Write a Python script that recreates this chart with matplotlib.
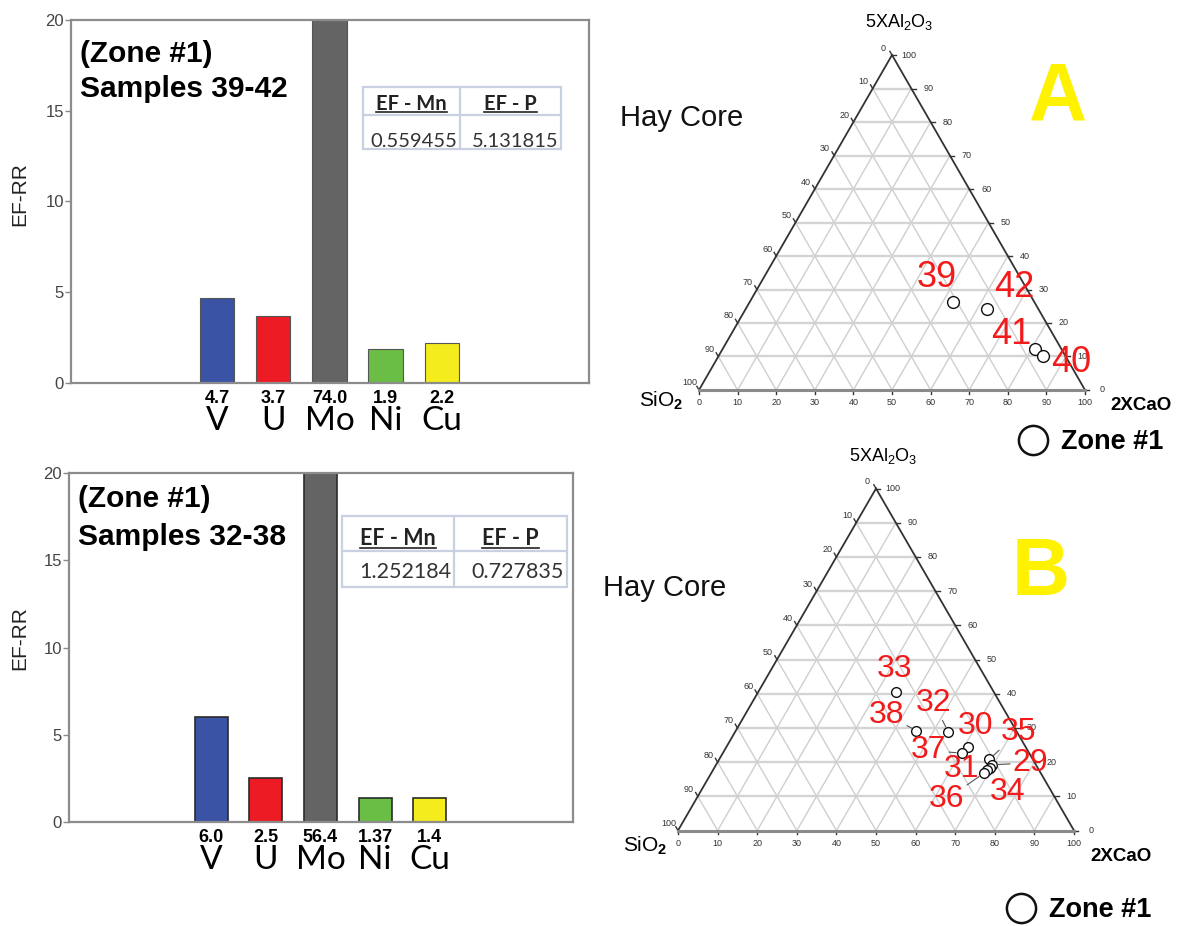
import numpy as np
import matplotlib
matplotlib.use("Agg")
import matplotlib.pyplot as plt
from matplotlib.lines import Line2D
from matplotlib.patches import Rectangle

plt.rcParams['font.family'] = ['Liberation Sans', 'DejaVu Sans']
plt.rcParams['mathtext.fontset'] = 'custom'
plt.rcParams['mathtext.rm'] = 'Liberation Sans'
plt.rcParams['mathtext.it'] = 'Liberation Sans:italic'
plt.rcParams['mathtext.bf'] = 'Liberation Sans:bold'

# ---------------- enrichment factors (EF-RR) ----------------
elements = ['V', 'U', 'Mo', 'Ni', 'Cu']
bar_colors = ['#3a53a4', '#ed1c24', '#646464', '#6abd45', '#f4ec1c']

ef_rr_39_42 = [4.7, 3.7, 74.0, 1.9, 2.2]
ef_rr_32_38 = [6.0, 2.5, 56.4, 1.37, 1.4]
decimals_39_42 = [1, 1, 1, 1, 1]
decimals_32_38 = [1, 1, 1, 2, 1]

table_header = ['EF - Mn', 'EF - P']
ef_mn_p_39_42 = ['0.559455', '5.131815']
ef_mn_p_32_38 = ['1.252184', '0.727835']

# ---------------- ternary compositions (%) ----------------
# SiO2, 2XCaO, 5XAl2O3
samples_a = ['39', '42', '41', '40']
sio2_a = [20.9, 13.4, 6.9, 5.9]
cao_a = [52.7, 62.4, 80.9, 84.0]
al_a = [26.4, 24.2, 12.2, 10.1]

samples_b = ['33', '38', '32', '30', '37', '35', '29', '34', '31', '36']
sio2_b = [24.6, 25.2, 17.3, 14.4, 17.1, 11.0, 11.2, 12.0, 13.1, 14.5]
cao_b = [34.8, 45.6, 53.8, 61.1, 60.3, 68.2, 69.6, 69.7, 69.2, 68.8]
al_b = [40.6, 29.2, 28.9, 24.5, 22.6, 20.8, 19.2, 18.3, 17.7, 16.7]

W, H = 1178, 926
fig = plt.figure(figsize=(W / 100, H / 100), dpi=100)
fig.patch.set_facecolor('white')


def px_axes(x0, y0, x1, y1):
    """Axes placed by a pixel box measured from the top-left corner."""
    return fig.add_axes([x0 / W, 1 - y1 / H, (x1 - x0) / W, (y1 - y0) / H])


renderer = fig.canvas.get_renderer()


def underline(ax, text_artist, xy_axes):
    bb = text_artist.get_window_extent(renderer=renderer)
    ybase = ax.transAxes.transform(xy_axes)[1] - 2.5
    inv = fig.transFigure.inverted()
    (fx0, fy), (fx1, _) = inv.transform([(bb.x0, ybase), (bb.x1, ybase)])
    fig.add_artist(Line2D([fx0, fx1], [fy, fy], transform=fig.transFigure,
                          color='#222222', lw=1.2, zorder=10))


def bar_panel(ax, values, decimals, title, table_vals, tbox, col_split,
              row_split, base_head, base_val, table_fs, edge, edge_lw, width):
    x = np.arange(len(elements))
    ax.bar(x, values, width=width, color=bar_colors, edgecolor=edge,
           linewidth=edge_lw, zorder=2)
    ax.set_xlim(-2.6, 6.62)
    ax.set_ylim(0, 20)
    ax.set_yticks([0, 5, 10, 15, 20])
    ax.tick_params(axis='y', length=4, width=1, color='#888888',
                   labelsize=12, labelcolor='#444444', pad=1)
    ax.set_xticks([])
    for s in ax.spines.values():
        s.set_color('#8c8c8c')
        s.set_linewidth(1.6)
    for xi, v, d, name in zip(x, values, decimals, elements):
        ax.annotate(f'{v:.{d}f}', xy=(xi, 0), xytext=(0, -20),
                    textcoords='offset pixels', ha='center', va='baseline',
                    fontsize=13, fontweight='bold', annotation_clip=False)
        ax.annotate(name, xy=(xi, 0), xytext=(0, -47),
                    textcoords='offset pixels', ha='center', va='baseline',
                    fontsize=24, family='Lato', annotation_clip=False)
    ax.set_ylabel('EF-RR', fontsize=15, color='#222222', va='center')

    for (tx, ty), line in zip(title[0], title[1]):
        ax.text(tx, ty, line, transform=ax.transAxes, fontsize=21.5,
                fontweight='bold', ha='left', va='baseline', zorder=4)

    # small EF-Mn / EF-P table
    tx0, ty0, tx1, ty1 = tbox
    border = '#c8d0e2'
    ax.add_patch(Rectangle((tx0, ty0), tx1 - tx0, ty1 - ty0,
                           transform=ax.transAxes, facecolor='white',
                           edgecolor=border, lw=1.6, zorder=5))
    ax.plot([col_split, col_split], [ty0, ty1], transform=ax.transAxes,
            color=border, lw=1.6, zorder=6)
    ax.plot([tx0, tx1], [row_split, row_split], transform=ax.transAxes,
            color=border, lw=1.6, zorder=6)
    cols = [(tx0, col_split), (col_split, tx1)]
    for (c0, c1), head, val in zip(cols, table_header, table_vals):
        t = ax.text((c0 + c1) / 2, base_head, head, transform=ax.transAxes,
                    ha='center', va='baseline', fontsize=table_fs,
                    fontweight='bold', family='Lato', color='#222222',
                    zorder=7)
        underline(ax, t, ((c0 + c1) / 2, base_head))
        ax.annotate(val, xy=(c1, base_val), xycoords='axes fraction',
                    xytext=(-3, 0), textcoords='offset pixels', ha='right',
                    va='baseline', fontsize=table_fs, family='Lato',
                    color='#333333', zorder=7)


# ---- top bar chart: samples 39-42 ----
ax1 = px_axes(71, 20, 589, 383)
bar_panel(ax1, ef_rr_39_42, decimals_39_42,
          ([(0.0174, 0.884), (0.0174, 0.788)], ['(Zone #1)', 'Samples 39-42']),
          ef_mn_p_39_42, (0.5637, 0.6446, 0.946, 0.8154), 0.751, 0.7383,
          (383 - 110) / 363, (383 - 147) / 363, 14.5, '#555555', 0.8, 0.61)
ax1.yaxis.set_label_coords(-0.0985, 0.52)

# ---- bottom bar chart: samples 32-38 ----
ax2 = px_axes(69, 473, 573, 822)
bar_panel(ax2, ef_rr_32_38, decimals_32_38,
          ([(0.018, 0.9026), (0.018, 0.7937)], ['(Zone #1)', 'Samples 32-38']),
          ef_mn_p_32_38, (0.5417, 0.6734, 0.988, 0.8768), 0.764, 0.7765,
          (822 - 545) / 349, (822 - 578) / 349, 15.5, '#2b2b2b', 1.2, 0.60)
ax2.yaxis.set_label_coords(-0.097, 0.526)

# ---------------- ternary diagrams ----------------
HGT = np.sqrt(3) / 2


def tern_xy(s, c, a):
    s, c, a = (np.asarray(v, dtype=float) for v in (s, c, a))
    tot = s + c + a
    return 100 * (c + a / 2) / tot, 100 * a * HGT / tot


def ternary_panel(ax, xlim, ylim, names, s, c, a, offsets, leaders,
                  label_fs, ms, corner_offsets, hay_pos, letter, letter_pos,
                  legend_anchor, legend_pad):
    ax.set_xlim(*xlim)
    ax.set_ylim(*ylim)
    ax.axis('off')
    grid = dict(color='#cfcfcf', lw=1.0, zorder=1)
    for v in range(10, 100, 10):
        x, y = tern_xy([100 - v, 0], [0, 100 - v], [v, v])
        ax.plot(x, y, color='#d4d4d4', lw=1.7, zorder=1)
        x, y = tern_xy([100 - v, 0], [v, v], [0, 100 - v])
        ax.plot(x, y, **grid)
        x, y = tern_xy([v, v], [100 - v, 0], [0, 100 - v])
        ax.plot(x, y, **grid)
    # triangle edges
    x, y = tern_xy([100, 0], [0, 0], [0, 100])
    ax.plot(x, y, color='#333333', lw=1.3, zorder=3)
    x, y = tern_xy([0, 0], [100, 0], [0, 100])
    ax.plot(x, y, color='#333333', lw=1.3, zorder=3)
    x, y = tern_xy([100, 0], [0, 100], [0, 0])
    ax.plot(x, y, color='#8a8a8a', lw=2.2, zorder=3)

    tick_kw = dict(textcoords='offset pixels', ha='center', va='center',
                   fontsize=6.5, color='#333333', annotation_clip=False)
    for v in range(0, 101, 10):
        # left edge: SiO2
        px, py = tern_xy(v, 0, 100 - v)
        ax.plot([px, px - 0.55], [py, py + 0.95], color='#333333', lw=1)
        ax.annotate(str(v), xy=(px, py), xytext=(-9, 7), **tick_kw)
        # right edge: 5XAl2O3
        px, py = tern_xy(0, 100 - v, v)
        ax.plot([px, px + 1.1], [py, py], color='#333333', lw=1)
        ax.annotate(str(v), xy=(px, py), xytext=(17, 0), **tick_kw)
        # bottom edge: 2XCaO
        px, py = tern_xy(100 - v, v, 0)
        ax.plot([px, px], [py, py - 1.0], color='#333333', lw=1)
        ax.annotate(str(v), xy=(px, py), xytext=(0, -13), **tick_kw)

    # corner labels
    (o_top, o_left, o_right) = corner_offsets
    ax.annotate(r'5XAl$_2$O$_3$', xy=tern_xy(0, 0, 100), xytext=o_top,
                textcoords='offset pixels', ha='center', va='center',
                fontsize=13, annotation_clip=False)
    ax.annotate(r'SiO$_{\mathbf{2}}$', xy=tern_xy(100, 0, 0), xytext=o_left,
                textcoords='offset pixels', ha='center', va='center',
                fontsize=15, annotation_clip=False)
    ax.annotate('2XCaO', xy=tern_xy(0, 100, 0), xytext=o_right,
                textcoords='offset pixels', ha='center', va='center',
                fontsize=13.5, fontweight='bold', annotation_clip=False)

    # samples
    px, py = tern_xy(s, c, a)
    ax.plot(px, py, ls='none', marker='o', ms=ms, mfc='white', mec='#111111',
            mew=1.0, zorder=5)
    for name, x0, y0 in zip(names, px, py):
        arrow = None
        if name in leaders:
            arrow = dict(arrowstyle='-', color='#555555', lw=0.8,
                         shrinkA=0, shrinkB=ms * 0.55)
        ax.annotate(name, xy=(x0, y0), xytext=offsets[name],
                    textcoords='offset pixels', ha='center', va='center',
                    fontsize=label_fs, color='#f21b1b', zorder=6,
                    arrowprops=arrow)

    ax.text(hay_pos[0], hay_pos[1], 'Hay Core', transform=ax.transAxes,
            fontsize=21, ha='left', va='center', color='#111111')
    ax.text(letter_pos[0], letter_pos[1], letter, transform=ax.transAxes,
            fontsize=58, fontweight='bold', color='#fff200', ha='center',
            va='center')
    handle = Line2D([], [], ls='none', marker='o', ms=21, mfc='white',
                    mec='#111111', mew=1.8, label='Zone #1')
    ax.legend(handles=[handle], loc='center left', bbox_to_anchor=legend_anchor,
              bbox_transform=fig.transFigure, frameon=False,
              prop={'weight': 'bold', 'size': 19.5}, handlelength=1.11,
              handletextpad=legend_pad, borderpad=0, borderaxespad=0)


axA = px_axes(600, 0, 1178, 460)
offsets_a = {'39': (-17, 24), '42': (28, 21), '41': (-24, 15), '40': (28, -6)}
ternary_panel(axA, (-25.65, 124.09), (-18.10, 100.83), samples_a, sio2_a,
              cao_a, al_a, offsets_a, [], 26, 8.5,
              ((7, 33), (-38, -11), (56, -16)), (0.0346, 0.7435), 'A',
              (0.7924, 0.7848), (1018 / W, 1 - 442 / H), 0.48)

axB = px_axes(580, 440, 1178, 926)
offsets_b = {'33': (-2, 23), '38': (-30, 16), '32': (-15, 29), '30': (7, 21),
             '37': (-33, 3), '35': (29, 27), '29': (39, 2), '34': (17, -24),
             '31': (-26, 1), '36': (-37, -26)}
ternary_panel(axB, (-24.75, 126.26), (-24.18, 98.89), samples_b, sio2_b,
              cao_b, al_b, offsets_b, ['38', '32', '37', '35', '29', '36'],
              23, 7, ((7, 33), (-33, -15), (47, -26)), (0.0385, 0.6955), 'B',
              (0.770, 0.7243), (1005.5 / W, 1 - 910 / H), 0.5)

fig.savefig('out.png', dpi=100)
